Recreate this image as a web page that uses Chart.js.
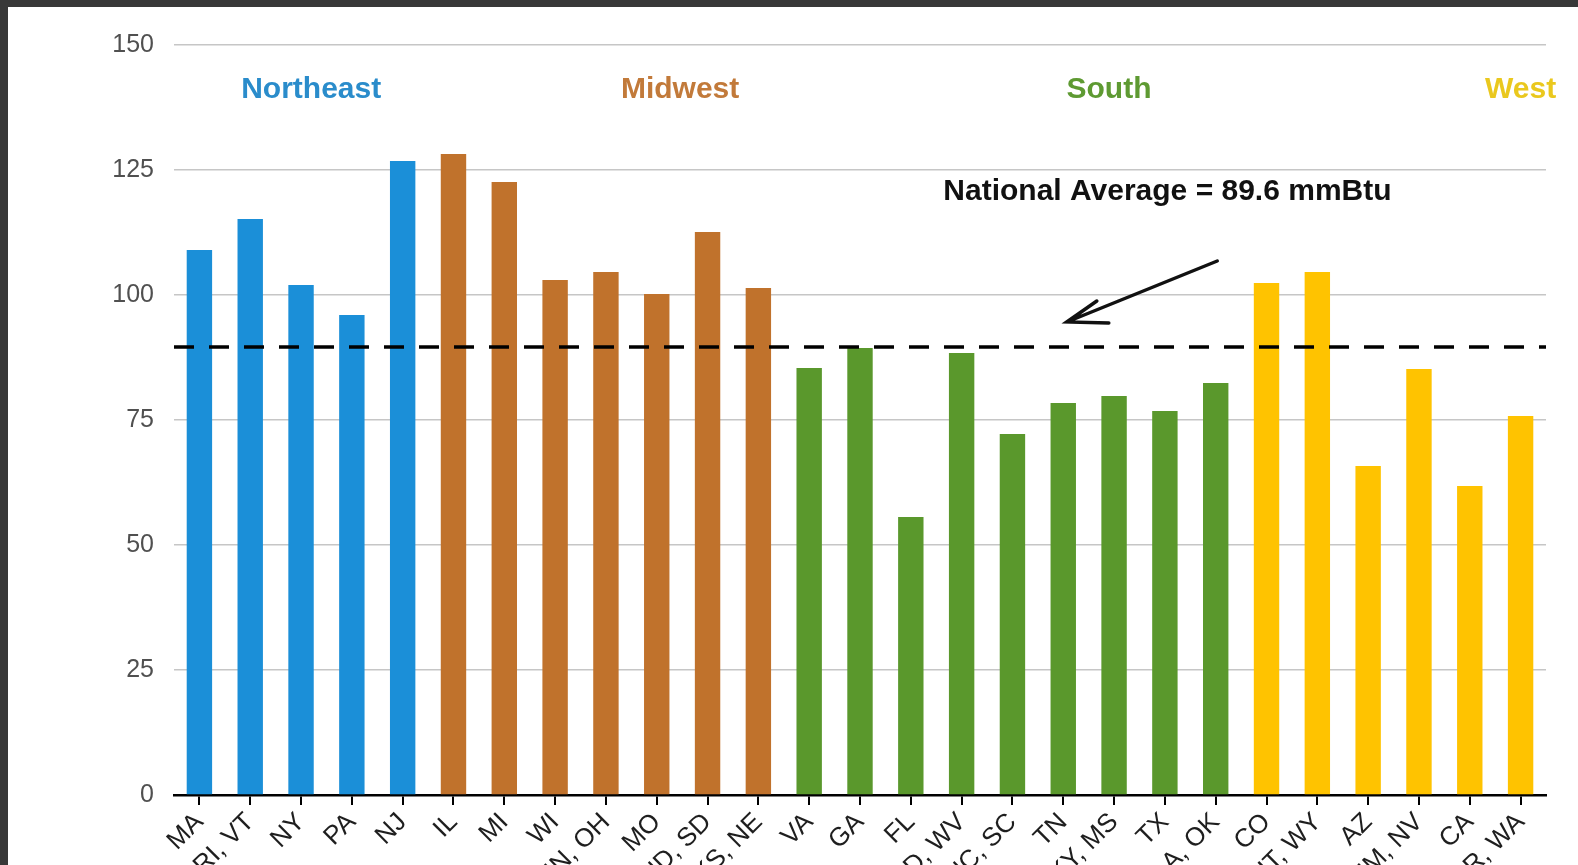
<!DOCTYPE html>
<html>
<head>
<meta charset="utf-8">
<title>Average household site energy consumption by state</title>
<script src="https://cdn.jsdelivr.net/npm/chart.js@4.4.1/dist/chart.umd.min.js"></script>
<style>
  html, body { margin: 0; padding: 0; overflow: hidden; background: #383838; }
  #wrap { position: absolute; left: 8px; top: 7px; width: 1570px; height: 1000px; background: #ffffff; }
  canvas { display: block; }
</style>
</head>
<body>
<div id="wrap"><canvas id="chart" width="1570" height="1000"></canvas></div>
<script>
// Reportable domains, grouped by census region
const categories = [
  'MA', 'CT, ME, NH, RI, VT', 'NY', 'PA', 'NJ',
  'IL', 'MI', 'WI', 'IN, OH', 'MO', 'IA, MN, ND, SD', 'KS, NE',
  'VA', 'GA', 'FL', 'DE, DC, MD, WV', 'NC, SC', 'TN', 'AL, KY, MS', 'TX', 'AR, LA, OK',
  'CO', 'ID, MT, UT, WY', 'AZ', 'NM, NV', 'CA', 'AK, HI, OR, WA'
];

// Average site energy consumption per household (mmBtu)
const consumption = [
  109.0, 115.2, 102.0, 96.0, 126.8,
  128.2, 122.6, 103.0, 104.6, 100.2, 112.6, 101.4,
  85.4, 89.4, 55.6, 88.4, 72.2, 78.4, 79.8, 76.8, 82.4,
  102.4, 104.6, 65.8, 85.2, 61.8, 75.8
];

// Census region of each category (index into regionNames)
const categoryRegion = [
  0, 0, 0, 0, 0,
  1, 1, 1, 1, 1, 1, 1,
  2, 2, 2, 2, 2, 2, 2, 2, 2,
  3, 3, 3, 3, 3, 3
];

const regionNames = ['Northeast', 'Midwest', 'South', 'West'];
const nationalAverage = 89.6;
const yTicks = [0, 25, 50, 75, 100, 125, 150];

// Styling and annotation placement
const regionBarColors = ['#1b8fd8', '#c0722c', '#5a982c', '#ffc300'];
const regionTextColors = ['#2a8ccb', '#c27a3a', '#5e9a32', '#eac81e'];
const regionLabelAt = [[2.2, 141], [9.46, 141], [17.9, 141], [26.0, 141]];
const averageTextAt = [19.05, 120.6];
const arrowTail = [20.03, 106.8];
const arrowTip = [17.07, 94.6];

const annotations = {
  id: 'annotations',
  afterDatasetsDraw(chart) {
    const { ctx, chartArea, scales } = chart;
    const x = scales.x, y = scales.y;
    const px = i => x.left + (i + 0.5) * (x.width / categories.length);

    ctx.save();
    // national average dashed rule
    const yAvg = y.getPixelForValue(nationalAverage);
    ctx.strokeStyle = '#000';
    ctx.lineWidth = 3.5;
    ctx.setLineDash([20, 15]);
    ctx.beginPath();
    ctx.moveTo(chartArea.left, yAvg);
    ctx.lineTo(chartArea.right, yAvg);
    ctx.stroke();
    ctx.setLineDash([]);

    // region headings
    ctx.font = 'bold 30px "Liberation Sans", Arial, sans-serif';
    ctx.textAlign = 'center';
    ctx.textBaseline = 'middle';
    regionNames.forEach((name, i) => {
      ctx.fillStyle = regionTextColors[i];
      ctx.fillText(name, px(regionLabelAt[i][0]), y.getPixelForValue(regionLabelAt[i][1]));
    });

    // average callout
    ctx.fillStyle = '#111';
    ctx.font = 'bold 30px "Liberation Sans", Arial, sans-serif';
    ctx.fillText('National Average = ' + nationalAverage + ' mmBtu',
      px(averageTextAt[0]), y.getPixelForValue(averageTextAt[1]));

    // arrow pointing at the rule
    const tx = px(arrowTail[0]), ty = y.getPixelForValue(arrowTail[1]);
    const hx = px(arrowTip[0]), hy = y.getPixelForValue(arrowTip[1]);
    ctx.strokeStyle = '#111';
    ctx.lineWidth = 3.5;
    ctx.lineCap = 'round';
    ctx.beginPath();
    ctx.moveTo(tx, ty);
    ctx.lineTo(hx, hy);
    ctx.moveTo(hx + 30, hy - 21);
    ctx.lineTo(hx, hy);
    ctx.lineTo(hx + 42, hy + 1);
    ctx.stroke();
    ctx.restore();
  }
};

new Chart(document.getElementById('chart'), {
  type: 'bar',
  data: {
    labels: categories,
    datasets: [{
      data: consumption,
      backgroundColor: categoryRegion.map(r => regionBarColors[r]),
      borderWidth: 0,
      categoryPercentage: 1.0,
      barPercentage: 0.5
    }]
  },
  options: {
    responsive: false,
    animation: false,
    devicePixelRatio: 1,
    layout: { padding: { top: 38, right: 32, left: 0, bottom: 0 } },
    plugins: { legend: { display: false }, tooltip: { enabled: false } },
    scales: {
      x: {
        afterFit(scale) { scale.height = 212; },
        grid: { offset: false, drawOnChartArea: false, drawTicks: true, tickLength: 10, color: '#000', lineWidth: 2 },
        border: { display: true, color: '#000', width: 2.5 },
        ticks: {
          autoSkip: false, minRotation: 45, maxRotation: 45, padding: 2,
          color: '#1e1e1e', font: { family: '"Liberation Sans", Arial, sans-serif', size: 26 }
        }
      },
      y: {
        min: 0, max: 150,
        afterFit(scale) { scale.width = 166; },
        afterBuildTicks(scale) { scale.ticks = yTicks.map(v => ({ value: v })); },
        grid: { color: '#c6c6c6', lineWidth: 1.5, drawTicks: false },
        border: { display: false },
        ticks: {
          padding: 20, color: '#505050',
          font: { family: '"Liberation Sans", Arial, sans-serif', size: 25 }
        }
      }
    }
  },
  plugins: [annotations]
});
</script>
</body>
</html>
